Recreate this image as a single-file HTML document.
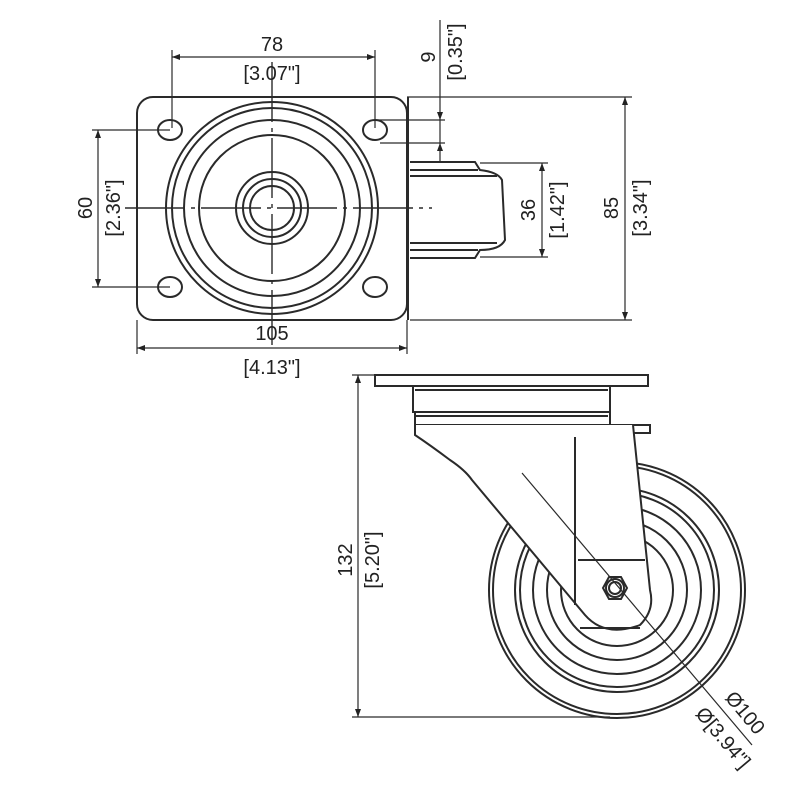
<!DOCTYPE html>
<html><head><meta charset="utf-8"><style>
html,body{margin:0;padding:0;background:#fff;}
svg{display:block;}
text{font-family:"Liberation Sans",sans-serif;font-size:20px;fill:#222;}
</style></head><body>
<svg width="796" height="800" viewBox="0 0 796 800" xmlns="http://www.w3.org/2000/svg">
<g fill="none" stroke="#2a2a2a" stroke-width="2">
<!-- TOP VIEW -->
<rect x="137" y="97" width="270" height="223" rx="16"/>
<ellipse cx="170" cy="130" rx="12" ry="10"/>
<ellipse cx="375" cy="130" rx="12" ry="10"/>
<ellipse cx="170" cy="287" rx="12" ry="10"/>
<ellipse cx="375" cy="287" rx="12" ry="10"/>
<circle cx="272" cy="208" r="106"/>
<circle cx="272" cy="208" r="100"/>
<circle cx="272" cy="208" r="88"/>
<circle cx="272" cy="208" r="73"/>
<circle cx="272" cy="208" r="36"/>
<circle cx="272" cy="208" r="29"/>
<circle cx="272" cy="208" r="22"/>
<!-- side tyre -->
<path d="M410 162 H475 L480 170 Q498 172 502 180 L505 240 Q500 250 480 250 L475 258 H410"/>
<line x1="410" y1="170" x2="478" y2="170"/>
<line x1="410" y1="176" x2="497" y2="176"/>
<line x1="410" y1="243" x2="497" y2="243"/>
<line x1="410" y1="250" x2="478" y2="250"/>
<line x1="408" y1="97" x2="408" y2="320"/>
<!-- centerlines -->
<line x1="272" y1="62" x2="272" y2="345" stroke-dasharray="60 6 4 6" stroke-width="1.4"/>
<line x1="125" y1="208" x2="432" y2="208" stroke-dasharray="60 6 4 6" stroke-width="1.4"/>
<!-- dim 78 -->
<line x1="172" y1="50" x2="172" y2="128" stroke-width="1.2"/>
<line x1="375" y1="50" x2="375" y2="128" stroke-width="1.2"/>
<line x1="172" y1="57" x2="375" y2="57" stroke-width="1.2"/>
<!-- dim 60 -->
<line x1="92" y1="130" x2="170" y2="130" stroke-width="1.2"/>
<line x1="92" y1="287" x2="170" y2="287" stroke-width="1.2"/>
<line x1="98" y1="130" x2="98" y2="287" stroke-width="1.2"/>
<!-- dim 105 -->
<line x1="137" y1="320" x2="137" y2="354" stroke-width="1.2"/>
<line x1="407" y1="320" x2="407" y2="354" stroke-width="1.2"/>
<line x1="137" y1="348" x2="407" y2="348" stroke-width="1.2"/>
<!-- dim 9 -->
<line x1="440" y1="20" x2="440" y2="162" stroke-width="1.2"/>
<line x1="375" y1="120" x2="445" y2="120" stroke-width="1.2"/>
<line x1="380" y1="143" x2="445" y2="143" stroke-width="1.2"/>
<!-- dim 36 -->
<line x1="480" y1="163" x2="548" y2="163" stroke-width="1.2"/>
<line x1="480" y1="257" x2="548" y2="257" stroke-width="1.2"/>
<line x1="542" y1="163" x2="542" y2="257" stroke-width="1.2"/>
<!-- dim 85 -->
<line x1="407" y1="97" x2="632" y2="97" stroke-width="1.2"/>
<line x1="410" y1="320" x2="632" y2="320" stroke-width="1.2"/>
<line x1="625" y1="97" x2="625" y2="320" stroke-width="1.2"/>

<!-- SIDE VIEW -->
<rect x="375" y="375" width="273" height="11"/>
<path d="M413 386 V412 H610 V386"/>
<line x1="415" y1="390" x2="608" y2="390"/>
<path d="M415 412 V425 H610 V412"/>
<line x1="415" y1="416" x2="608" y2="416"/>
<path d="M610 425 H650 V433 H633"/>
<circle cx="617" cy="590" r="128"/>
<circle cx="617" cy="590" r="124"/>
<circle cx="617" cy="590" r="102"/>
<circle cx="617" cy="590" r="97"/>
<circle cx="617" cy="590" r="84"/>
<circle cx="617" cy="590" r="70"/>
<circle cx="617" cy="590" r="56"/>
<!-- fork -->
<path d="M415 425 V435 Q430 445 450 460 Q465 470 472 480 L585 615 Q605 638 640 625 Q655 610 650 590 L633 425" fill="#fff"/>
<line x1="575" y1="437" x2="575" y2="605"/>
<path d="M578 560 H645 M580 628 H640"/>
<polygon points="603,588 609,577 621,577 627,588 621,599 609,599" fill="#fff"/>
<circle cx="615" cy="588" r="9"/>
<circle cx="615" cy="588" r="6"/>
<!-- diameter line -->
<line x1="522" y1="473" x2="752" y2="745" stroke-width="1.2"/>
<!-- dim 132 -->
<line x1="352" y1="375" x2="378" y2="375" stroke-width="1.2"/>
<line x1="352" y1="717" x2="610" y2="717" stroke-width="1.2"/>
<line x1="358" y1="375" x2="358" y2="717" stroke-width="1.2"/>
</g>
<g fill="#222">
<path d="M172 57 l8 -3 v6z M375 57 l-8 -3 v6z"/>
<path d="M98 130 l-3 8 h6z M98 287 l-3 -8 h6z"/>
<path d="M137 348 l8 -3 v6z M407 348 l-8 -3 v6z"/>
<path d="M440 120 l-3 -8 h6z M440 143 l-3 8 h6z"/>
<path d="M542 163 l-3 8 h6z M542 257 l-3 -8 h6z"/>
<path d="M625 97 l-3 8 h6z M625 320 l-3 -8 h6z"/>
<path d="M358 375 l-3 8 h6z M358 717 l-3 -8 h6z"/>
</g>
<text x="272" y="51" text-anchor="middle">78</text>
<text x="272" y="80" text-anchor="middle">[3.07"]</text>
<text x="272" y="340" text-anchor="middle">105</text>
<text x="272" y="374" text-anchor="middle">[4.13"]</text>
<text transform="translate(92,208) rotate(-90)" text-anchor="middle">60</text>
<text transform="translate(120,208) rotate(-90)" text-anchor="middle">[2.36"]</text>
<text transform="translate(435,57) rotate(-90)" text-anchor="middle">9</text>
<text transform="translate(462,52) rotate(-90)" text-anchor="middle">[0.35"]</text>
<text transform="translate(535,210) rotate(-90)" text-anchor="middle">36</text>
<text transform="translate(564,210) rotate(-90)" text-anchor="middle">[1.42"]</text>
<text transform="translate(618,208) rotate(-90)" text-anchor="middle">85</text>
<text transform="translate(647,208) rotate(-90)" text-anchor="middle">[3.34"]</text>
<text transform="translate(352,560) rotate(-90)" text-anchor="middle">132</text>
<text transform="translate(379,560) rotate(-90)" text-anchor="middle">[5.20"]</text>
<text transform="translate(740,717) rotate(50)" text-anchor="middle">Ø100</text>
<text transform="translate(718,742) rotate(50)" text-anchor="middle">Ø[3.94"]</text>
</svg>
</body></html>
